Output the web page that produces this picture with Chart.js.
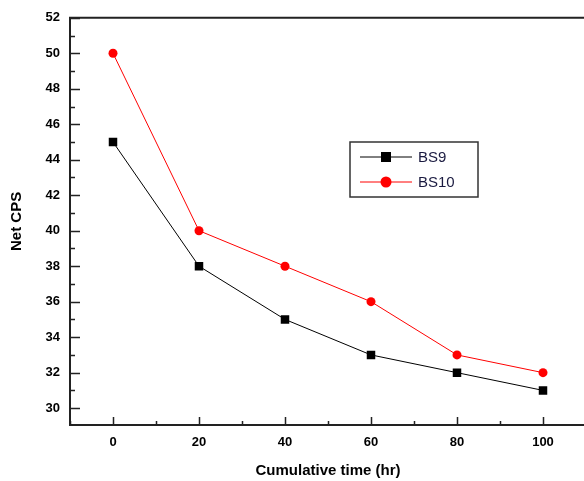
<!DOCTYPE html>
<html>
<head>
<meta charset="utf-8">
<script src="https://cdn.jsdelivr.net/npm/chart.js@4"></script>
<style>
  html, body { margin: 0; padding: 0; background: #fff; overflow: hidden; }
  #wrap { width: 600px; height: 481px; }
</style>
</head>
<body>
<div id="wrap"><canvas id="chart"></canvas></div>
<script>
// 数据
const times = [0, 20, 40, 60, 80, 100];
const bs9 = [45, 38, 35, 33, 32, 31];
const bs10 = [50, 40, 38, 36, 33, 32];
const xTicks = [0, 20, 40, 60, 80, 100];
const yTicks = [30, 32, 34, 36, 38, 40, 42, 44, 46, 48, 50, 52];

const labelFont = { family: 'Liberation Sans, Arial, sans-serif', size: 13, weight: 'bold' };

// 坐标框和内向刻度
const framePlugin = {
    id: 'frame',
    afterDraw(chart) {
        const ctx = chart.ctx;
        const a = chart.chartArea;
        const x = chart.scales.x, y = chart.scales.y;
        ctx.save();
        ctx.strokeStyle = '#222';
        ctx.lineWidth = 2;
        ctx.beginPath();
        ctx.moveTo(chart.width, a.top); ctx.lineTo(a.left, a.top);
        ctx.lineTo(a.left, a.bottom); ctx.lineTo(chart.width, a.bottom);
        ctx.stroke();
        ctx.lineWidth = 1.5;
        ctx.beginPath();
        for (let v = 30; v <= 52; v++) {
            const py = Math.round(y.getPixelForValue(v)) + 0.5;
            const len = v % 2 === 0 ? 10 : 5;
            ctx.moveTo(a.left, py); ctx.lineTo(a.left + len, py);
        }
        for (let v = -10; v <= 110; v += 10) {
            const px = Math.round(x.getPixelForValue(v)) + 0.5;
            const len = v % 20 === 0 ? 8 : 4;
            ctx.moveTo(px, a.bottom); ctx.lineTo(px, a.bottom - len);
        }
        ctx.stroke();

        // 图例
        const bx = 350, by = 142, bw = 128, bh = 55;
        ctx.lineWidth = 1.5;
        ctx.strokeStyle = '#333';
        ctx.strokeRect(bx, by, bw, bh);
        ctx.font = '15px Liberation Sans, Arial, sans-serif';
        ctx.textBaseline = 'middle';
        chart.data.datasets.forEach(function(ds, i) {
            const ly = by + 15 + i * 25;
            ctx.strokeStyle = ds.borderColor;
            ctx.lineWidth = 1;
            ctx.beginPath();
            ctx.moveTo(bx + 10, ly); ctx.lineTo(bx + 62, ly);
            ctx.stroke();
            ctx.fillStyle = ds.backgroundColor;
            if (ds.pointStyle === 'rect') {
                ctx.fillRect(bx + 31, ly - 5, 10, 10);
            } else {
                ctx.beginPath();
                ctx.arc(bx + 36, ly, 5.5, 0, Math.PI * 2);
                ctx.fill();
            }
            ctx.fillStyle = '#1a1a40';
            ctx.fillText(ds.label, bx + 68, ly + 1);
        });
        ctx.restore();
    }
};

new Chart(document.getElementById('chart'), {
    type: 'line',
    data: {
        datasets: [{
            label: 'BS9',
            data: times.map((t, i) => ({ x: t, y: bs9[i] })),
            borderColor: '#000',
            backgroundColor: '#000',
            borderWidth: 1,
            pointStyle: 'rect',
            pointRadius: 6,
            pointBorderWidth: 0
        }, {
            label: 'BS10',
            data: times.map((t, i) => ({ x: t, y: bs10[i] })),
            borderColor: '#ff0000',
            backgroundColor: '#ff0000',
            borderWidth: 1,
            pointStyle: 'circle',
            pointRadius: 4.5,
            pointBorderWidth: 0
        }]
    },
    options: {
        responsive: true,
        maintainAspectRatio: false,
        animation: false,
        layout: { padding: { top: 14, right: 14, left: 0, bottom: 0 } },
        plugins: {
            legend: { display: false },
            tooltip: { enabled: false }
        },
        scales: {
            x: {
                type: 'linear',
                min: -10,
                max: 110,
                afterBuildTicks: function(scale) {
                    scale.ticks = xTicks.map(v => ({ value: v }));
                },
                afterFit: function(scale) { scale.height = 56; },
                grid: { display: false, drawTicks: false },
                border: { display: false },
                ticks: { color: '#000', font: labelFont, padding: 10, maxRotation: 0 },
                title: {
                    display: true,
                    text: 'Cumulative time (hr)',
                    color: '#000',
                    font: { family: 'Liberation Sans, Arial, sans-serif', size: 15, weight: 'bold' },
                    padding: { top: 0, bottom: 1 }
                }
            },
            y: {
                min: 29.05,
                max: 52,
                afterBuildTicks: function(scale) {
                    scale.ticks = yTicks.map(v => ({ value: v }));
                },
                afterFit: function(scale) { scale.width = 70; },
                grid: { display: false, drawTicks: false },
                border: { display: false },
                ticks: { color: '#000', font: labelFont, padding: 10 },
                title: {
                    display: true,
                    text: 'Net CPS',
                    color: '#000',
                    font: { family: 'Liberation Sans, Arial, sans-serif', size: 15, weight: 'bold' },
                    padding: { top: 8, bottom: 0 }
                }
            }
        }
    },
    plugins: [framePlugin]
});
</script>
</body>
</html>
